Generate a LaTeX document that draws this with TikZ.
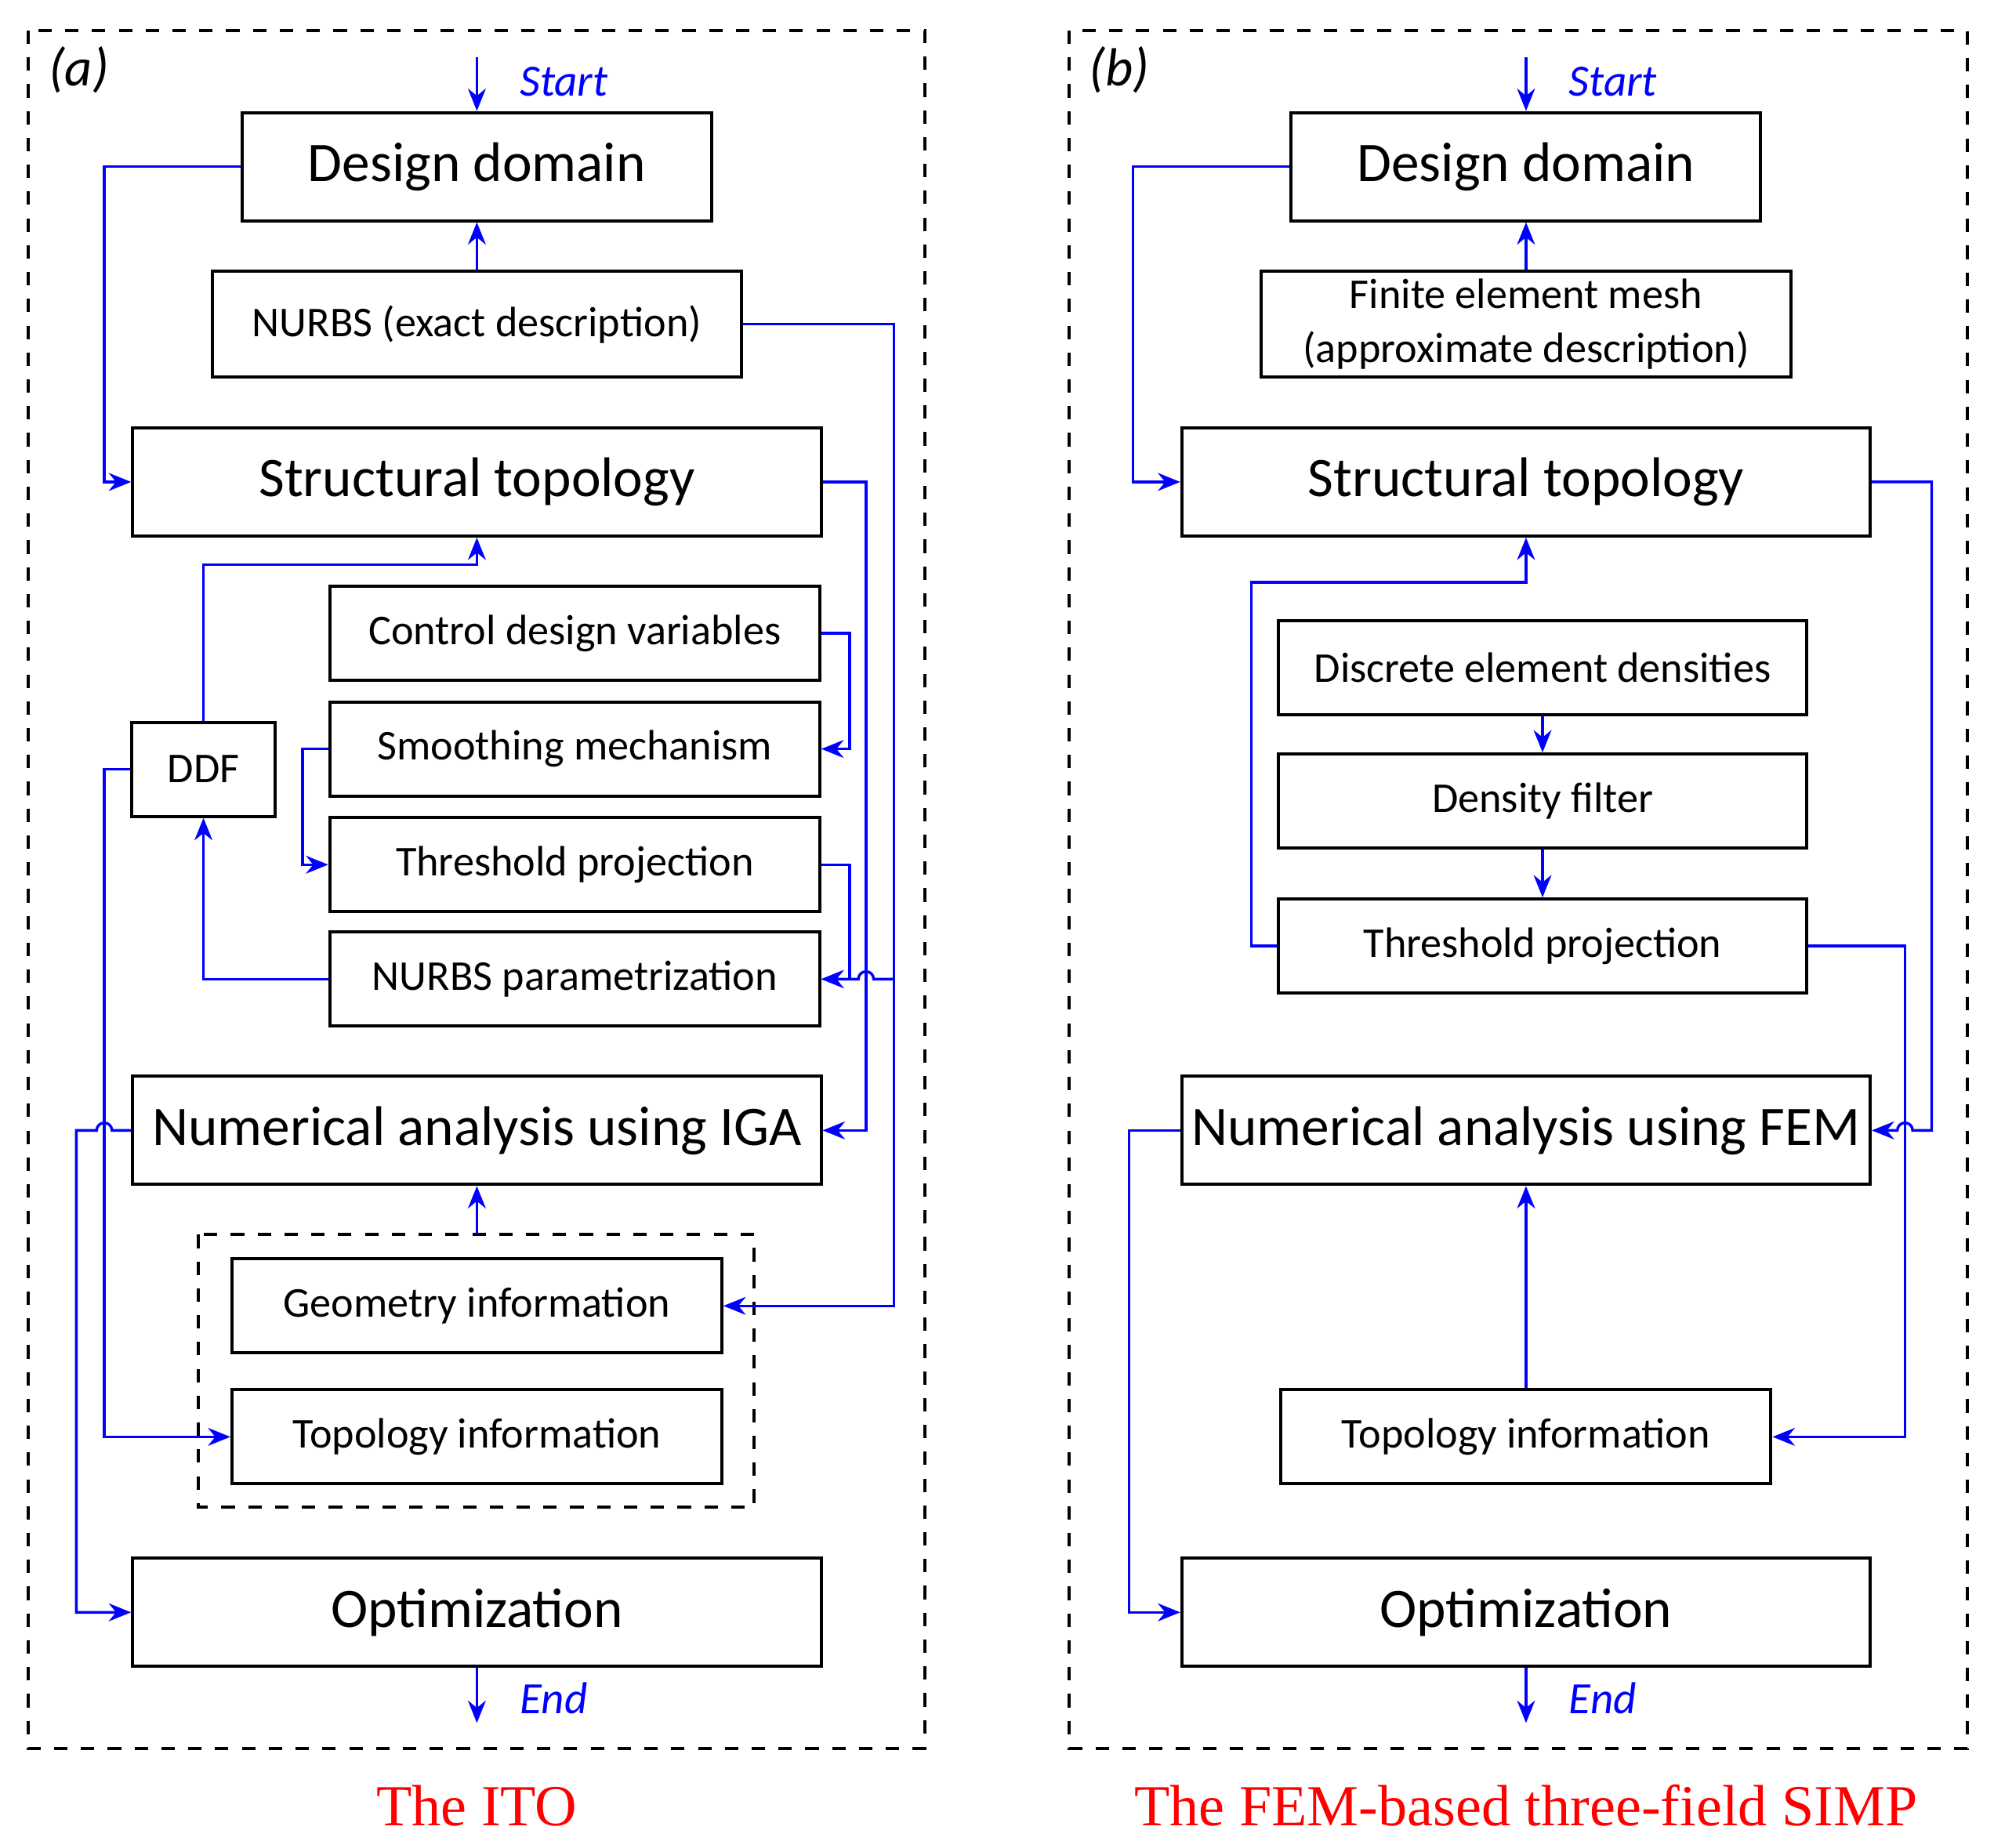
\documentclass[tikz,border=0pt]{standalone}
\usepackage{fontspec}
\setmainfont{Carlito}
\newfontfamily\titlefont{Liberation Serif}
\usetikzlibrary{arrows.meta}
\begin{document}
\begin{tikzpicture}[x=0.01cm,y=-0.01cm,>={Stealth[length=5pt,width=4pt]},
  box/.style={draw,line width=0.7pt,inner sep=0pt},
  big/.style={font=\fontsize{12.5}{14}\selectfont},
  small/.style={font=\fontsize{9.5}{12}\selectfont},
  link/.style={blue,line width=0.6pt},
  flag/.style={blue,font=\fontsize{10}{12}\selectfont\itshape},
  frame/.style={draw,dashed,line width=0.7pt},
  caption/.style={red,font=\fontsize{13}{15}\selectfont\titlefont}]
\useasboundingbox (0,0) rectangle (1568,1453);
% Frames
\draw[frame] (22,24) rectangle (727,1375);
\draw[frame] (841,24) rectangle (1547,1375);
\draw[frame] (156,971) rectangle (593,1185);
\node[font=\fontsize{12}{14}\selectfont] (labA) at (62,55) {\textit{(a)}};
\node[font=\fontsize{12}{14}\selectfont] (labB) at (880,55) {\textit{(b)}};
% Left panel: the ITO
\node[box,big,minimum width=3.69cm,minimum height=0.85cm] (ddA) at (375,131) {Design domain};
\node[box,small,minimum width=4.16cm,minimum height=0.83cm] (nurbsA) at (375,255) {NURBS (exact description)};
\node[box,big,minimum width=5.41cm,minimum height=0.85cm] (stA) at (375,379) {Structural topology};
\node[box,small,minimum width=3.85cm,minimum height=0.74cm] (cdv) at (452,498) {Control design variables};
\node[box,small,minimum width=3.85cm,minimum height=0.74cm] (smo) at (452,589) {Smoothing mechanism};
\node[box,small,minimum width=3.85cm,minimum height=0.74cm] (thrA) at (452,680) {Threshold projection};
\node[box,small,minimum width=3.85cm,minimum height=0.74cm] (npar) at (452,770) {NURBS parametrization};
\node[box,small,minimum width=1.13cm,minimum height=0.74cm] (ddf) at (160,605) {DDF};
\node[box,big,minimum width=5.41cm,minimum height=0.85cm] (naA) at (375,889) {Numerical analysis using IGA};
\node[box,small,minimum width=3.85cm,minimum height=0.74cm] (geo) at (375,1027) {Geometry information};
\node[box,small,minimum width=3.85cm,minimum height=0.74cm] (topA) at (375,1130) {Topology information};
\node[box,big,minimum width=5.41cm,minimum height=0.85cm] (optA) at (375,1268) {Optimization};
\coordinate (startA) at (375,45);
\coordinate (endA) at (375,1355);
\coordinate (innerA) at (375,971);
\node[caption] (capA) at (375,1420) {The ITO};
\draw[link,->] (startA) -- (ddA.north) node[flag,pos=0.45,right=6pt] {Start};
\draw[link,->] (optA.south) -- (endA) node[flag,pos=0.55,right=6pt] {End};
\draw[link,->] (nurbsA) -- (ddA);
\draw[link,->] (ddA.west) -- (82,131) -- (82,379) -- (stA.west);
\draw[link,->] (nurbsA.east) -- (703,255) -- (703,1027) -- (geo.east);
\draw[link,->] (703,770) -- (687,770) arc[start angle=0,end angle=180,radius=0.06cm] -- (npar.east);
\draw[link,->] (stA.east) -- (681,379) -- (681,889) -- (naA.east);
\draw[link,->] (cdv.east) -- (668,498) -- (668,589) -- (smo.east);
\draw[link,->] (thrA.east) -- (668,680) -- (668,770) -- (npar.east);
\draw[link,->] (smo.west) -- (238,589) -- (238,680) -- (thrA.west);
\draw[link,->] (npar.west) -- (160,770) -- (ddf.south);
\draw[link,->] (ddf.north) -- (160,444) -- (375,444) -- (stA.south);
\draw[link,->] (ddf.west) -- (82,605) -- (82,1130) -- (topA.west);
\draw[link,->] (naA.west) -- (88,889) arc[start angle=0,end angle=180,radius=0.06cm] -- (60,889) -- (60,1268) -- (optA.west);
\draw[link,->] (innerA) -- (naA.south);
% Right panel: three-field SIMP
\node[box,big,minimum width=3.69cm,minimum height=0.85cm] (ddB) at (1200,131) {Design domain};
\node[box,small,minimum width=4.16cm,minimum height=0.83cm,align=center] (mesh) at (1200,255) {Finite element mesh\\(approximate description)};
\node[box,big,minimum width=5.41cm,minimum height=0.85cm] (stB) at (1200,379) {Structural topology};
\node[box,small,minimum width=4.15cm,minimum height=0.74cm] (dens) at (1213,525) {Discrete element densities};
\node[box,small,minimum width=4.15cm,minimum height=0.74cm] (filt) at (1213,630) {Density filter};
\node[box,small,minimum width=4.15cm,minimum height=0.74cm] (thrB) at (1213,744) {Threshold projection};
\node[box,big,minimum width=5.41cm,minimum height=0.85cm] (naB) at (1200,889) {Numerical analysis using FEM};
\node[box,small,minimum width=3.85cm,minimum height=0.74cm] (topB) at (1200,1130) {Topology information};
\node[box,big,minimum width=5.41cm,minimum height=0.85cm] (optB) at (1200,1268) {Optimization};
\coordinate (startB) at (1200,45);
\coordinate (endB) at (1200,1355);
\node[caption] (capB) at (1200,1420) {The FEM-based three-field SIMP};
\draw[link,->] (startB) -- (ddB.north) node[flag,pos=0.45,right=6pt] {Start};
\draw[link,->] (optB.south) -- (endB) node[flag,pos=0.55,right=6pt] {End};
\draw[link,->] (mesh) -- (ddB);
\draw[link,->] (ddB.west) -- (891,131) -- (891,379) -- (stB.west);
\draw[link,->] (stB.east) -- (1519,379) -- (1519,889) -- (1504,889) arc[start angle=0,end angle=180,radius=0.06cm] -- (naB.east);
\draw[link,->] (thrB.east) -- (1498,744) -- (1498,1130) -- (topB.east);
\draw[link,->] (thrB.west) -- (984,744) -- (984,458) -- (1200,458) -- (stB.south);
\draw[link,->] (dens) -- (filt);
\draw[link,->] (filt) -- (thrB);
\draw[link,->] (topB) -- (naB);
\draw[link,->] (naB.west) -- (888,889) -- (888,1268) -- (optB.west);
\end{tikzpicture}
\end{document}
